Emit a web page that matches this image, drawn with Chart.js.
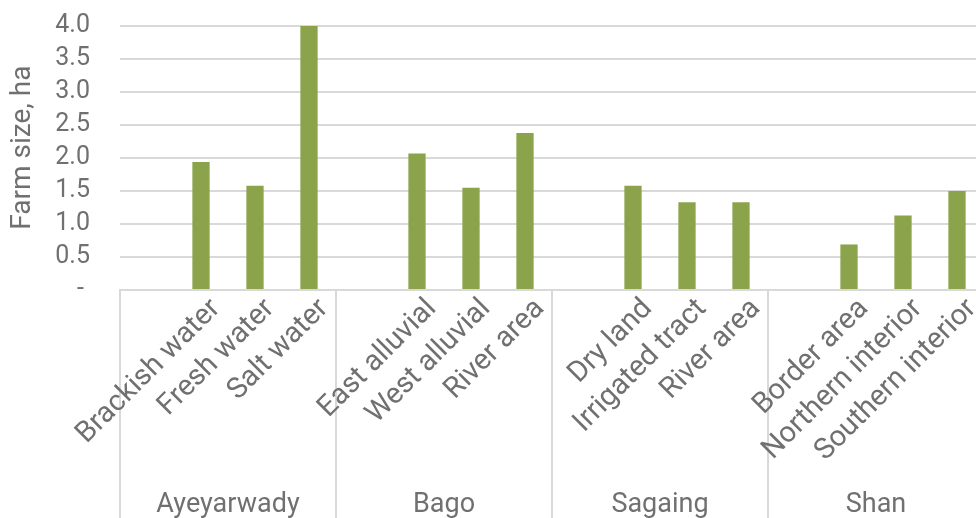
<!DOCTYPE html>
<html>
<head>
<meta charset="utf-8">
<script src="https://cdn.jsdelivr.net/npm/chart.js@4"></script>
<style>
    html, body { margin: 0; padding: 0; background: #fff; }
    #wrap { width: 976px; height: 518px; overflow: hidden; }
</style>
</head>
<body>
<div id="wrap"><canvas id="farmChart" width="990" height="530"></canvas></div>
<script>
// each region starts with an empty slot, like the source sheet
const regions = ["Ayeyarwady", "Bago", "Sagaing", "Shan"];
const zones = [
    "", "Brackish water", "Fresh water", "Salt water",
    "", "East alluvial", "West alluvial", "River area",
    "", "Dry land", "Irrigated tract", "River area",
    "", "Border area", "Northern interior", "Southern interior",
];
const farmSize = [
    null, 1.94, 1.58, 4.0,
    null, 2.07, 1.55, 2.38,
    null, 1.58, 1.33, 1.33,
    null, 0.69, 1.13, 1.5,
];
const yTicks = [0, 0.5, 1.0, 1.5, 2.0, 2.5, 3.0, 3.5, 4.0];

const textColor = "#707070";
const lineColor = "#d9d9d9";
const fontName = "Roboto";

const ctx = document.getElementById("farmChart");

new Chart(ctx, {
    type: "bar",
    data: {
        labels: zones,
        datasets: [{
            label: "Farm size",
            data: farmSize,
            backgroundColor: "#8ba44b",
            categoryPercentage: 1,
            barPercentage: 0.32,
        }],
    },
    options: {
        responsive: false,
        animation: false,
        layout: { padding: { top: 26, right: 6, left: 0, bottom: 0 } },
        plugins: {
            legend: { display: false },
            tooltip: { enabled: false },
        },
        scales: {
            x: {
                type: "category",
                position: "bottom",
                weight: 0,
                offset: true,
                border: { display: true, color: lineColor, width: 2 },
                grid: {
                    offset: true,
                    drawOnChartArea: false,
                    drawTicks: true,
                    tickLength: 228,
                    lineWidth: 2,
                    color: (c) => (c.index % 4 === 0 ? lineColor : "rgba(0,0,0,0)"),
                },
                ticks: {
                    autoSkip: false,
                    maxRotation: 45,
                    minRotation: 45,
                    padding: -226,
                    labelOffset: 15,
                    color: textColor,
                    font: { family: fontName, size: 29 },
                },
                afterFit: (s) => { s.height = 190; },
            },
            group: {
                type: "category",
                position: "bottom",
                weight: 1,
                offset: true,
                labels: regions,
                border: { display: false },
                grid: { display: false, drawTicks: false },
                ticks: {
                    padding: 9,
                    color: textColor,
                    font: { family: fontName, size: 27 },
                },
                afterFit: (s) => { s.height = 50; },
            },
            y: {
                min: 0,
                max: 4,
                afterBuildTicks: (s) => { s.ticks = yTicks.map((v) => ({ value: v })); },
                border: { display: false },
                grid: {
                    color: lineColor,
                    lineWidth: 2,
                    drawTicks: true,
                    tickLength: 30,
                    tickColor: "rgba(0,0,0,0)",
                },
                ticks: {
                    autoSkip: false,
                    padding: 0,
                    color: textColor,
                    font: { family: fontName, size: 25 },
                    callback: (v) => (v === 0 ? "- " : v.toFixed(1)),
                },
                title: {
                    display: true,
                    text: "\u00a0\u00a0\u00a0Farm size, ha",
                    color: textColor,
                    font: { family: fontName, size: 28 },
                    padding: { top: 6, bottom: 0 },
                },
                afterFit: (s) => { s.width = 120; },
            },
        },
    },
});
</script>
</body>
</html>
